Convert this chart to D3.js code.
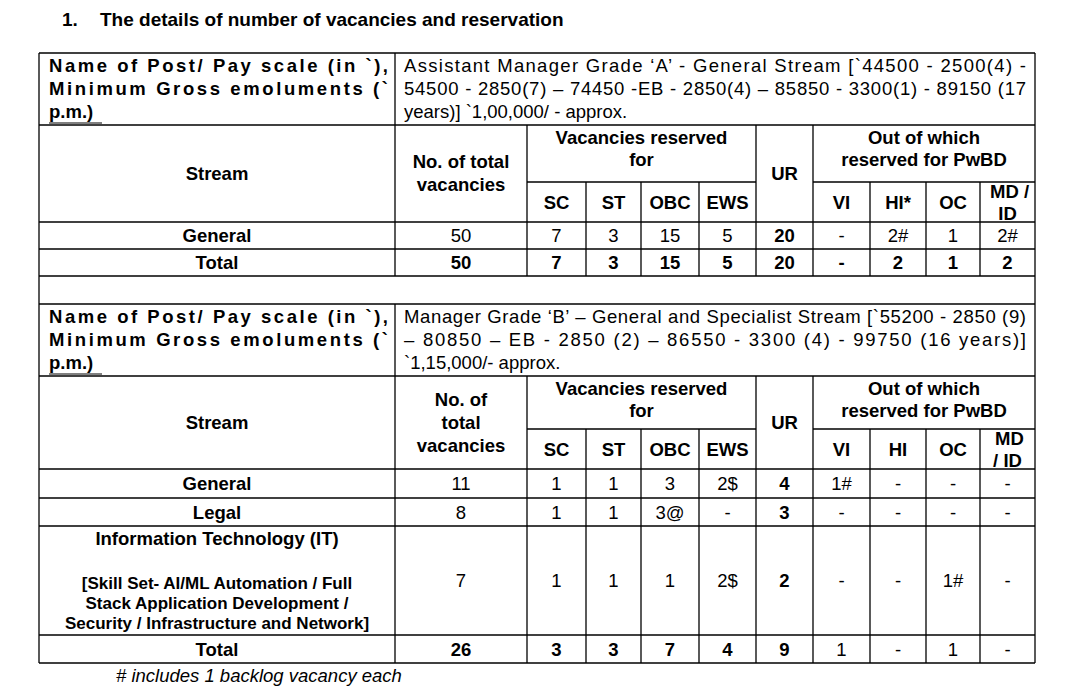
<!DOCTYPE html>
<html><head><meta charset="utf-8">
<script src="https://cdn.jsdelivr.net/npm/d3@7"></script>
<style>body{margin:0;background:#fff}svg{font-family:"Liberation Sans",Arial,sans-serif}</style>
</head><body><svg id="c" width="1065" height="690"></svg>
<script>
const colKeys=["stream","total","SC","ST","OBC","EWS","UR","VI","HI","OC","MD"];
const post1="Assistant Manager Grade ‘A’ - General Stream [`44500 - 2500(4) -|54500 - 2850(7) – 74450 -EB - 2850(4) – 85850 - 3300(1) - 89150 (17|years)] `1,00,000/ - approx.";
const post2="Manager Grade ‘B’ – General and Specialist Stream [`55200 - 2850 (9)|– 80850 – EB - 2850 (2) – 86550 - 3300 (4) - 99750 (16 years)]|`1,15,000/- approx.";
const rows1=[["General","50","7","3","15","5","20","-","2#","1","2#"],["Total","50","7","3","15","5","20","-","2","1","2"]];
const rows2=[["General","11","1","1","3","2$","4","1#","-","-","-"],["Legal","8","1","1","3@","-","3","-","-","-","-"],["IT","7","1","1","1","2$","2","-","-","1#","-"],["Total","26","3","3","7","4","9","1","-","1","-"]];
const itLabel=["Information Technology (IT)","","[Skill Set- AI/ML Automation / Full","Stack Application Development /","Security / Infrastructure and Network]"];

const svg=d3.select("#c");
const X=[39,395,527,586,641,699,756,813,870,926,980,1035];
const col=i=>[X[i],X[i+1]];
const FS=18.5;
function line(x1,y1,x2,y2){svg.append("line").attr("x1",x1).attr("y1",y1).attr("x2",x2).attr("y2",y2).attr("stroke","#000").attr("stroke-width",1.3);}
function txt(s,xx,yy,o={}){const t=svg.append("text").attr("x",xx).attr("y",yy).attr("text-anchor",o.a||"middle").attr("font-size",o.fs||FS).attr("font-weight",o.b?"bold":"normal").attr("font-style",o.i?"italic":"normal").text(s);if(o.len)t.attr("textLength",o.len).attr("lengthAdjust","spacing");return t;}
function cc(i,y0,y1,s,b,fs){const [a,c]=col(i);txt(s,(a+c)/2,(y0+y1)/2+6.5,{b,fs});}

txt("1.",62,26,{a:"start",b:true,fs:19});
txt("The details of number of vacancies and reservation",100,26,{a:"start",b:true,fs:19});

function block(Y,post,rows,hdrTotal,two,boldCols){
  const [top,ht,hs,...rb]=Y;
  const bottom=rb[rb.length-1];
  line(X[0],top,X[11],top);line(X[0],ht,X[11],ht);
  rb.forEach(y=>line(X[0],y,X[11],y));
  line(X[0],top,X[0],bottom);line(X[11],top,X[11],bottom);
  line(X[1],top,X[1],bottom);
  for(let i=2;i<11;i++){
    const start=(i===3||i===4||i===5||i===8||i===9||i===10)?hs:ht;
    line(X[i],start,X[i],bottom);
  }
  line(X[2],hs,X[6],hs);line(X[7],hs,X[11],hs);
  const nl=["Name of Post/ Pay scale (in `),","Minimum Gross emoluments (`","p.m.)"];
  nl.forEach((s,k)=>txt(s,X[0]+10,top+19+k*23,{a:"start",b:true,len:k<2?X[1]-X[0]-17:null}));
  svg.append("line").attr("x1",X[0]+10).attr("x2",X[0]+63).attr("y1",top+70).attr("y2",top+70).attr("stroke","#000");
  post.split("|").forEach((s,k)=>txt(s,X[1]+9,top+19+k*23,{a:"start",len:k<2?X[11]-X[1]-18:null}));
  cc(0,ht,rb[0],"Stream",true);
  const [a,c]=col(1);
  hdrTotal.forEach((s,k)=>txt(s,(a+c)/2,(ht+rb[0])/2+6+(k-(hdrTotal.length-1)/2)*23,{b:true}));
  txt("Vacancies reserved",(X[2]+X[6])/2,ht+19,{b:true});
  txt("for",(X[2]+X[6])/2,ht+41,{b:true});
  txt("Out of which",(X[7]+X[11])/2,ht+19,{b:true});
  txt("reserved for PwBD",(X[7]+X[11])/2,ht+41,{b:true});
  cc(6,ht,rb[0],"UR",true);
  ["SC","ST","OBC","EWS"].forEach((s,k)=>cc(2+k,hs,rb[0],s,true));
  ["VI",two?"HI":"HI*","OC"].forEach((s,k)=>cc(7+k,hs,rb[0],s,true));
  const mx=(X[10]+X[11])/2;
  txt(two?"MD":"MD /",mx+2,(hs+rb[0])/2-4,{b:true});txt(two?"/ ID":"ID",mx,(hs+rb[0])/2+18,{b:true});
  rows.forEach((r,ri)=>{
    const y0=rb[ri],y1=rb[ri+1];const isT=r[0]==="Total";
    r.forEach((v,ci)=>{
      if(ci===0&&v==="IT"){itLabel.forEach((s,k)=>txt(s,(X[0]+X[1])/2,y0+19+(k===0?0:k*20+4),{b:true,fs:k===0?18.5:17}));return;}
      cc(ci,y0,y1,v,ci===0||ci===6||(isT&&ci<=boldCols));
    });
  });
}
block([53,125,182,222,249,276],post1,rows1,["No. of total","vacancies"],false,10);
line(X[0],276,X[0],304);line(X[11],276,X[11],304);
block([304,376,429,469,498,526,635,663],post2,rows2,["No. of","total","vacancies"],true,6);
txt("# includes 1 backlog vacancy each",116,682,{a:"start",i:true});
</script></body></html>
